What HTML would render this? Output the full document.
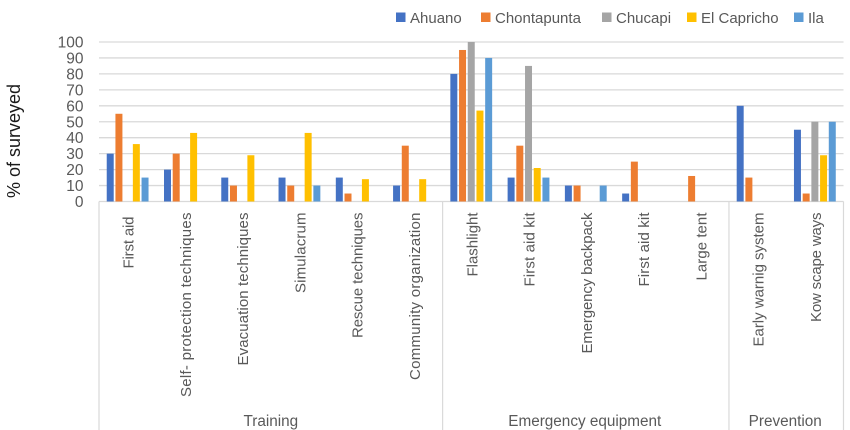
<!DOCTYPE html>
<html lang="en">
<head>
<meta charset="utf-8">
<title>Survey chart</title>
<style>
html,body{margin:0;padding:0;background:#fff;width:850px;height:430px;overflow:hidden}
svg{display:block;font-family:"Liberation Sans",sans-serif;filter:blur(0.35px)}
text{white-space:pre}
</style>
</head>
<body>
<svg id="chart" width="850" height="430" viewBox="0 0 850 430" xmlns="http://www.w3.org/2000/svg"></svg>
<script>
const categories = ["First aid\u00a0", "Self- protection techniques", "Evacuation techniques", "Simulacrum", "Rescue techniques", "Community organization", "Flashlight", "First aid kit", "Emergency backpack", "First aid kit", "Large tent", "Early warnig system", "Kow scape ways"];
const groupNames = ["Training", "Emergency equipment", "Prevention"];
const groupCounts = [6, 5, 2];
const seriesNames = ["Ahuano", "Chontapunta", "Chucapi", "El Capricho", "Ila"];
const ahuano = [30, 20, 15, 15, 15, 10, 80, 15, 10, 5, 0, 60, 45];
const chontapunta = [55, 30, 10, 10, 5, 35, 95, 35, 10, 25, 16, 15, 5];
const chucapi = [0, 0, 0, 0, 0, 0, 100, 85, 0, 0, 0, 0, 50];
const elCapricho = [36, 43, 29, 43, 14, 14, 57, 21, 0, 0, 0, 0, 29];
const ila = [15, 0, 0, 10, 0, 0, 90, 15, 10, 0, 0, 0, 50];
const yTicks = [0, 10, 20, 30, 40, 50, 60, 70, 80, 90, 100];

const svg = document.getElementById('chart');
const NS = 'http://www.w3.org/2000/svg';
const colors = ['#4472c4', '#ed7d31', '#a5a5a5', '#ffc000', '#5b9bd5'];
const allSeries = [ahuano, chontapunta, chucapi, elCapricho, ila];
const plot = {left: 99, right: 843.5, top: 42, bottom: 201.5, end: 430};
const yScale = v => plot.bottom - (v / 100) * (plot.bottom - plot.top);
const band = (plot.right - plot.left) / categories.length;
const xCenter = i => plot.left + band * (i + 0.5);
const pitch = band * 0.152;
const barW = band * 0.122;
const labelSpan = [56, 184.5, 153, 80.5, 125.5, 167.5, 64, 74, 141, 74, 68, 134, 109.5];

function mk(tag, attrs, text) {
  const e = document.createElementNS(NS, tag);
  for (const k in attrs) e.setAttribute(k, attrs[k]);
  if (text !== undefined) e.textContent = text;
  svg.appendChild(e);
  return e;
}

yTicks.forEach(t => {
  const y = yScale(t);
  const line = mk('line', {x1: plot.left, x2: plot.right, y1: y, y2: y, stroke: '#d9d9d9', 'stroke-width': 1.3});
  
  
  const label = mk('text', {x: 83.5, y: y + 5.5, 'text-anchor': 'end', 'font-size': 15.5, fill: '#595959'}, String(t));
  
  
});

let start = 0;
const dividerAt = i => plot.left + band * i;
const first = mk('line', {x1: dividerAt(0), x2: dividerAt(0), y1: plot.bottom, y2: plot.end, stroke: '#d9d9d9', 'stroke-width': 1.2});


groupNames.forEach((g, gi) => {
  const end = start + groupCounts[gi];
  const div = mk('line', {x1: dividerAt(end), x2: dividerAt(end), y1: plot.bottom, y2: plot.end, stroke: '#d9d9d9', 'stroke-width': 1.2});
  
  
  const label = mk('text', {x: (dividerAt(start) + dividerAt(end)) / 2 - (gi === 0 ? 0 : 1), y: 426, 'text-anchor': 'middle', 'font-size': 15.3, fill: '#595959'}, g);
  
  
  start = end;
});

allSeries.forEach((vals, si) => {
  vals.forEach((v, i) => {
    if (!v) return;
    const x = xCenter(i) + (si - 2) * pitch - barW / 2;
    const bar = mk('rect', {x: x, y: yScale(v), width: barW, height: plot.bottom - yScale(v), fill: colors[si]});
    
    
  });
});

categories.forEach((c, i) => {
  const x = xCenter(i) + 6;
  const label = mk('text', {transform: 'translate(' + x + ',212.5) rotate(-90)', 'text-anchor': 'end', 'font-size': 15, textLength: labelSpan[i], lengthAdjust: 'spacing', fill: '#595959'}, c);
  
  
});

const axisTitle = mk('text', {transform: 'translate(20,141) rotate(-90)', 'text-anchor': 'middle', 'font-size': 18, fill: '#1a1a1a'}, '% of surveyed');



const legendX = [396, 481, 602, 687, 794];
seriesNames.forEach((n, i) => {
  const sw = mk('rect', {x: legendX[i], y: 12.5, width: 9.5, height: 9.5, fill: colors[i]});
  
  
  const t = mk('text', {x: legendX[i] + 14, y: 23, 'font-size': 15, fill: '#595959'}, n);
  
  
});
</script>
</body>
</html>
